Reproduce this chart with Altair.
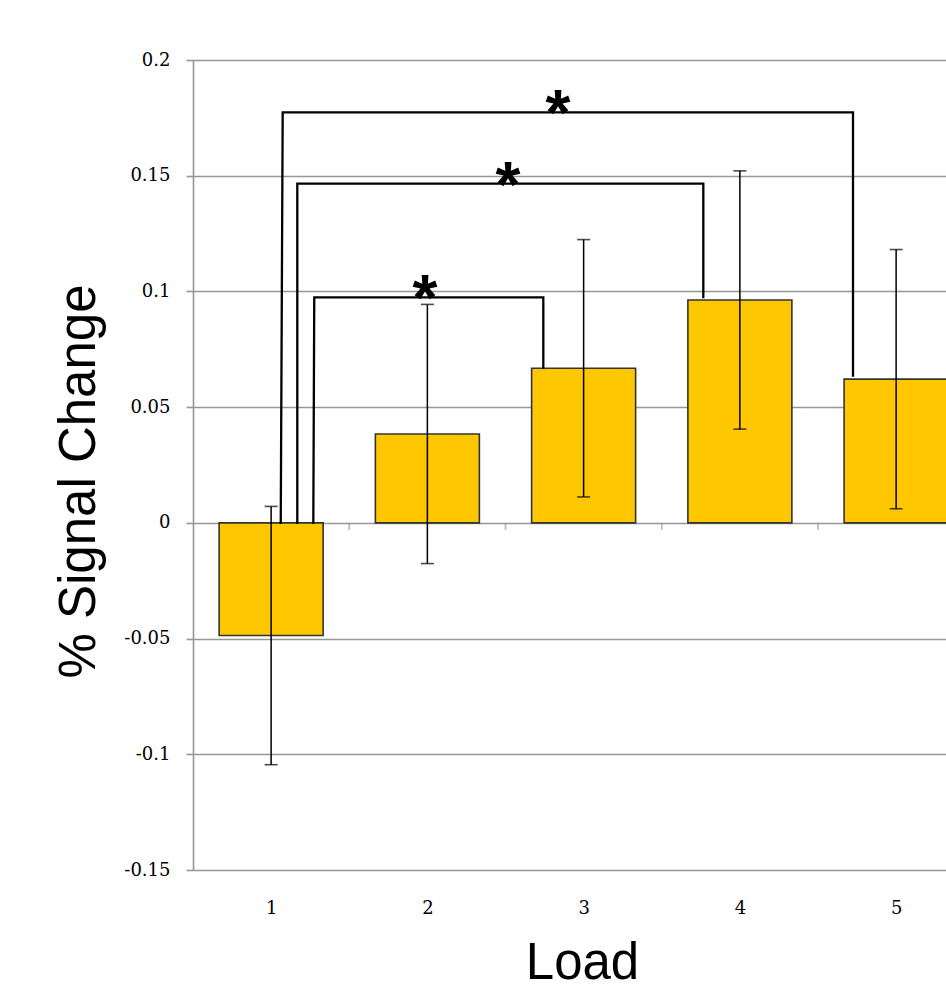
import altair as alt
import pandas as pd

# ---- data ----
loads = [1, 2, 3, 4, 5]
signal = [-0.0487, 0.0384, 0.0668, 0.0963, 0.0621]
sem = [0.0558, 0.0560, 0.0556, 0.0558, 0.0560]

y_ticks = [-0.15, -0.1, -0.05, 0, 0.05, 0.1, 0.15, 0.2]

# significance brackets (bar 1 vs bars 3, 4, 5)
bracket_id = ["1-3", "1-4", "1-5"]
bracket_left_top_x = [1.276, 1.1675, 1.074]
bracket_left_bottom_x = [1.270, 1.1675, 1.0616]
bracket_left_bottom_y = [0.0, 0.0, 0.0]
bracket_y = [0.0974, 0.1466, 0.1774]
bracket_right_x = [2.742, 3.766, 4.724]
bracket_right_bottom_y = [0.0671, 0.0975, 0.0636]
star_x = [1.985, 2.516, 2.836]
star_label = ["*", "*", "*"]

# ---- tables ----
bars = pd.DataFrame({"load": loads, "signal": signal, "sem": sem})
bars["lo"] = bars["signal"] - bars["sem"]
bars["hi"] = bars["signal"] + bars["sem"]

bounds = pd.DataFrame({"b": [k + 0.5 for k in loads[:-1]], "z": [0] * (len(loads) - 1)})

rows = []
for i, b in enumerate(bracket_id):
    pts = [
        (bracket_left_bottom_x[i], bracket_left_bottom_y[i]),
        (bracket_left_top_x[i], bracket_y[i]),
        (bracket_right_x[i], bracket_y[i]),
        (bracket_right_x[i], bracket_right_bottom_y[i]),
    ]
    for k, (px, py) in enumerate(pts):
        rows.append({"id": b, "order": k, "bx": px, "by": py})
brackets = pd.DataFrame(rows)

stars = pd.DataFrame({"sx": star_x, "sy": bracket_y, "t": star_label})

GRID = "#969696"
X_DOMAIN = [0.5, 5.3192]

xscale = alt.Scale(domain=X_DOMAIN, nice=False, zero=False, padding=0)
yscale = alt.Scale(domain=[-0.15, 0.2], nice=False, zero=False, padding=0)

base = alt.Chart(bars)

bar_layer = base.mark_bar(
    width=104, fill="#FFC700", stroke="#333333", strokeWidth=1.6, clip=True
).encode(
    x=alt.X(
        "load:Q",
        scale=xscale,
        axis=alt.Axis(
            values=loads,
            format="d",
            grid=False,
            ticks=False,
            domain=False,
            tickSize=0,
            labelPadding=43,
            labelBaseline="alphabetic",
            labelFont="DejaVu Serif",
            labelFontSize=18,
            labelColor="#000000",
            title="Load",
            titleFont="Liberation Sans",
            titleFontSize=51,
            titleFontWeight="normal",
            titleColor="#000000",
            titleX=389,
            titleY=108,
            titleBaseline="alphabetic",
            titleAlign="center",
        ),
    ),
    y=alt.Y(
        "signal:Q",
        scale=yscale,
        axis=alt.Axis(
            values=y_ticks,
            labelExpr="'' + datum.value",
            grid=True,
            gridColor=GRID,
            gridWidth=1.6,
            domainColor=GRID,
            domainWidth=1.6,
            tickColor=GRID,
            tickWidth=1.6,
            tickSize=7,
            labelPadding=16,
            labelFont="DejaVu Serif",
            labelFontSize=18,
            labelColor="#000000",
            labelBaseline="middle",
            title="% Signal Change",
            titleFont="Liberation Sans",
            titleFontSize=51,
            titleFontWeight="normal",
            titleColor="#000000",
            titleAngle=-90,
            titleX=-99,
            titleY=421,
            titleBaseline="alphabetic",
            titleAlign="center",
        ),
    ),
    y2=alt.datum(0),
)

boundary_ticks = alt.Chart(bounds).mark_tick(
    orient="vertical", size=7, thickness=1.6, color=GRID, yOffset=3.5
).encode(x=alt.X("b:Q", scale=xscale), y=alt.Y("z:Q", scale=yscale))

err_rule = base.mark_rule(color="#000000", strokeWidth=1.5, clip=True).encode(
    x=alt.X("load:Q", scale=xscale), y=alt.Y("lo:Q", scale=yscale), y2="hi:Q"
)
cap_lo = base.mark_tick(
    orient="horizontal", size=13, thickness=1.6, color="#000000", clip=True
).encode(x=alt.X("load:Q", scale=xscale), y=alt.Y("lo:Q", scale=yscale))
cap_hi = base.mark_tick(
    orient="horizontal", size=13, thickness=1.6, color="#000000", clip=True
).encode(x=alt.X("load:Q", scale=xscale), y=alt.Y("hi:Q", scale=yscale))

bracket_layer = alt.Chart(brackets).mark_line(
    color="#000000", strokeWidth=2.3, strokeJoin="miter", strokeCap="square"
).encode(
    x=alt.X("bx:Q", scale=xscale),
    y=alt.Y("by:Q", scale=yscale),
    detail="id:N",
    order="order:Q",
)

star_layer = alt.Chart(stars).mark_text(
    font="Liberation Sans",
    fontSize=64,
    fontWeight="bold",
    baseline="alphabetic",
    align="center",
    dy=23,
    color="#000000",
).encode(x=alt.X("sx:Q", scale=xscale), y=alt.Y("sy:Q", scale=yscale), text="t:N")

chart = (
    alt.layer(bar_layer, boundary_ticks, err_rule, cap_lo, cap_hi, bracket_layer, star_layer)
    .properties(
        width=753,
        height=810,
        autosize=alt.AutoSizeParams(type="none"),
        padding={"left": 193, "top": 60, "right": 0, "bottom": 118},
        background="#ffffff",
    )
    .configure_view(stroke=None)
)

chart.save("out.html", embed_options={"renderer": "svg", "actions": False})
